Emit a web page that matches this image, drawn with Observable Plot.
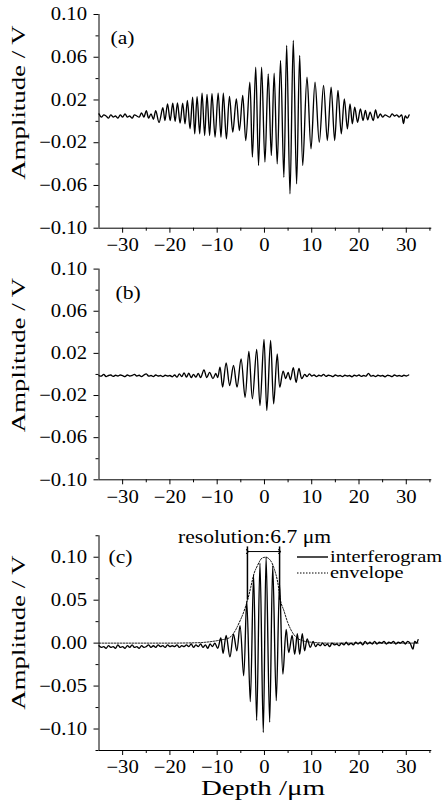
<!DOCTYPE html>
<html><head><meta charset="utf-8">
<script src="https://cdn.jsdelivr.net/npm/d3@7"></script>
<script src="https://cdn.jsdelivr.net/npm/@observablehq/plot@0.6"></script>
<style>
body{margin:0;background:#fff;}
#chart{width:447px;height:810px;position:relative;background:#fff;}
#chart svg{display:block;overflow:visible;background:transparent;}
</style></head><body><div id="chart"></div>
<script>
// ---------- data ----------
const depthA = [-35,-34.5,-34,-33.5,-33,-32.5,-32,-31.5,-31,-30.5,-30,-29.5,-29,-28.5,-28,-27.5,-27,-26.5,-26,-25.5,-25,-24.5,-24,-23.5,-23,-22.3,
-21.5,-21.05,-20.5,-19.95,-19.4,-18.9,-18.4,-17.85,-17.3,-16.8,-16.3,-15.75,-15.2,-14.75,-14.25,-13.7,-13.2,-12.65,-12.15,-11.6,-11.1,-10.45,-9.8,-9.2,-8.7,-8.05,-7.4,-6.7,-5.95,-5.3,-4.6,-3.95,-3.1,-2.55,-1.85,-1.25,-0.6,0.1,0.8,1.45,2.05,2.7,3.4,4.1,4.7,5.4,6.1,6.8,7.45,8.1,9.0,9.85,10.7,11.6,12.5,13.3,14.1,14.85,15.55,16.25,16.9,17.55,18.1,18.6,19.1,19.7,20.3,20.85,21.35,21.85,22.35,23.0,23.5,
24.0,24.5,25.0,25.5,26.0,26.5,27.0,27.5,28.0,28.5,29.0,29.4,29.8,30.2,30.6];
const ampA = [0.007,0.004,0.006,0.005,0.003,0.006,0.004,0.005,0.003,0.006,0.004,0.007,0.004,0.005,0.003,0.006,0.005,0.004,0.008,0.004,0.010,0.003,0.007,0.002,0.010,-0.001,
0.0127,0.0008,0.0164,0.0008,0.017,0.0001,0.0173,-0.0017,0.017,-0.0023,0.0195,-0.007,0.0226,-0.0117,0.0232,-0.0117,0.0264,-0.0132,0.0251,-0.0132,0.0258,-0.0148,0.0264,-0.0148,0.0264,-0.0164,0.0234,-0.0101,0.0211,-0.0086,0.0242,-0.0179,0.0367,-0.0335,0.0507,-0.0413,0.0507,-0.0382,0.0445,-0.032,0.0451,-0.0398,0.057,-0.0523,0.071,-0.0678,0.0757,-0.0585,0.0616,-0.0413,0.0413,-0.0257,0.0367,-0.0195,0.0336,-0.0179,0.032,-0.0179,0.0289,-0.0117,0.0211,-0.007,0.0164,-0.0023,0.0132,-0.0008,0.0117,0.0008,0.0102,0.0014,0.0086,0.0008,0.0108,
0.003,0.007,0.004,0.006,0.005,0.004,0.007,0.005,0.006,0.004,0.006,-0.002,0.005,0.003,0.006];

const depthB = [-35,-34.5,-34,-33.5,-33,-32.5,-32,-31.5,-31,-30.5,-30,-29.5,-29,-28.5,-28,-27.5,-27,-26.5,-26,-25.5,-25,-24.5,-24,-23.5,-23,-22.5,-22,-21.5,-21,-20.5,-20,-19.5,-19,-18.5,-18,-17.5,-17,-16.5,-16,-15.5,-15,-14.5,-14,-13.5,
-12.8,-12.2,-11.6,-10.9,-10.3,-9.9,-9.4,-8.85,-8.1,-7.35,-6.55,-5.8,-4.95,-4.1,-3.3,-2.55,-1.65,-0.95,-0.1,0.5,1.3,1.95,2.7,3.25,3.95,4.5,5.0,5.5,6.1,6.7,7.3,7.9,8.5,
9.0,9.5,10,10.5,11,11.5,12,12.5,13,13.5,14,14.5,15,15.5,16,16.5,17,17.5,18,18.5,19,19.5,20,20.5,21,21.5,22,22.5,23,23.5,24,24.5,25,25.5,26,26.5,27,27.5,28,28.5,29,29.5,30,30.5];
const ampB = [-0.001,-0.0015,0.000,-0.002,-0.001,-0.0005,-0.0018,-0.0008,-0.0015,-0.0005,-0.0012,-0.002,-0.0005,-0.0015,-0.001,0.000,-0.0015,-0.0008,-0.002,-0.0005,0.0005,-0.0015,-0.001,-0.002,-0.0005,-0.0015,-0.001,-0.002,-0.0008,-0.0015,-0.001,-0.0022,-0.0005,-0.0025,0.0005,-0.002,0.0015,-0.0025,0.0012,-0.003,0.000,-0.0025,0.001,-0.003,
0.0044,-0.003,0.002,-0.004,0.001,-0.003,0.0069,-0.0121,0.011,-0.0105,0.0085,-0.0121,0.0148,-0.0216,0.0218,-0.0231,0.0237,-0.0295,0.0332,-0.0342,0.0322,-0.0279,0.0196,-0.0121,0.003,-0.004,0.002,-0.005,0.0065,-0.0075,0.0058,-0.004,0.000,
-0.002,0.0005,-0.0015,-0.0005,-0.002,-0.0008,-0.0015,0.000,-0.0018,-0.0008,-0.0012,-0.002,-0.0005,-0.0015,-0.001,-0.002,-0.0008,-0.0015,-0.001,-0.0022,-0.0008,-0.0015,-0.0005,-0.0018,-0.001,-0.0015,0.001,-0.0015,-0.001,-0.002,-0.0008,-0.0015,-0.001,-0.0022,-0.0008,-0.0012,-0.002,-0.0005,-0.0015,-0.001,-0.0018,-0.0008,-0.0015,-0.0005];

const depthC = [-35,-34.5,-34,-33.5,-33,-32.5,-32,-31.5,-31,-30.5,-30,-29.5,-29,-28.5,-28,-27.5,-27,-26.5,-26,-25.5,-25,-24.5,-24,-23.5,-23,-22.5,-22,-21.5,-21,-20.5,-20,-19.5,-19,-18.5,-18,-17.5,-17,-16.5,-16,-15.5,-15,-14.5,-14,-13.5,-13,-12.5,-12,-11.5,-11,-10.5,-9.9,
-9.24,-8.75,-8.1,-7.3,-6.55,-5.85,-5.17,-4.4,-3.75,-3.0,-2.3,-1.65,-0.95,-0.25,0.35,1.1,1.75,2.5,3.2,3.9,4.6,5.15,5.85,6.4,6.95,7.45,8.0,8.5,9.05,9.7,10.3,
10.8,11.3,11.8,12.3,12.8,13.3,13.8,14.3,14.8,15.3,15.8,16.3,16.8,17.3,17.8,18.3,18.8,19.3,19.8,20.3,20.8,21.3,21.8,22.3,22.8,23.3,23.8,24.3,24.8,25.3,25.8,26.3,26.8,27.3,27.8,28.3,28.8,29.3,29.8,30.3,30.8,31.4,31.8,32.2,32.5];
const ampC = [-0.003,-0.005,-0.004,-0.006,-0.003,-0.005,-0.004,-0.006,-0.002,-0.005,-0.004,-0.006,-0.003,-0.005,-0.002,-0.005,-0.004,-0.006,-0.003,-0.005,-0.004,-0.002,-0.005,-0.003,-0.005,-0.002,-0.004,-0.003,-0.005,-0.002,-0.004,-0.003,-0.004,-0.002,-0.005,-0.003,-0.004,-0.002,-0.004,-0.001,-0.005,-0.002,-0.004,-0.001,-0.005,-0.002,-0.006,-0.001,-0.004,0.000,-0.006,
0.006,-0.012,0.009,-0.016,0.0105,-0.009,0.0204,-0.038,0.049,-0.068,0.079,-0.09,0.093,-0.104,0.100,-0.092,0.09,-0.067,0.068,-0.036,0.016,-0.011,0.009,-0.013,0.011,-0.013,0.011,-0.009,0.005,-0.005,0.002,
-0.004,-0.001,-0.003,0.000,-0.003,-0.001,-0.004,0.000,-0.002,-0.001,-0.003,0.000,-0.002,0.001,-0.002,0.000,-0.002,0.001,-0.001,0.001,-0.002,0.002,-0.001,0.001,-0.001,0.002,-0.001,0.001,0.000,0.002,-0.001,0.001,0.000,0.002,-0.001,0.001,0.000,0.002,-0.001,0.002,0.000,-0.007,0.002,0.000,0.004];

const envDepth = [-35,-20,-14,-11,-9.2,-7.5,-6.4,-5.3,-4.4,-3.6,-2.9,-2.2,-1.5,-0.5,0.25,1.3,2.1,2.8,3.4,4.1,4.9,5.9,6.9,8.0,10,14,20,32.5];
const envAmp = [0,0,0.0005,0.002,0.0037,0.006,0.0126,0.0243,0.036,0.0495,0.065,0.081,0.09,0.099,0.1,0.096,0.086,0.071,0.0495,0.038,0.0243,0.0126,0.006,0.003,0.001,0,0,0];

const xMajor = [-30,-20,-10,0,10,20,30];
const xMinor = [-25,-15,-5,5,15,25,35];
const yMajorAB = [-0.10,-0.06,-0.02,0.02,0.06,0.10];
const yMinorAB = [-0.08,-0.04,0,0.04,0.08];
const yMajorC = [-0.10,-0.05,0,0.05,0.10];
const yMinorC = [-0.125,-0.075,-0.025,0.025,0.075,0.125];
const resolutionX = [-3.6, 3.2];
const resolutionY = [0.05, 0.112];
const arrowY = 0.1066;
const resolutionLabel = "resolution:6.7 μm";
const legendLabels = ["interferogram", "envelope"];
const panelLetters = ["(a)", "(b)", "(c)"];
const yTitle = "Amplitude / V";
const xTitle = "Depth /μm";

// ---------- drawing ----------
const X_DOMAIN = [-35, 35.4];
const FONT = '"Liberation Serif", "Times New Roman", serif';

// horizontal stretch of a text about its own anchor x (the reference's lettering is wide)
function stretch(svg, factorFor) {
  d3.select(svg).selectAll("text").each(function () {
    const f = factorFor(this.textContent);
    if (!f || f === 1) return;
    let x = parseFloat(this.getAttribute("x"));
    if (!isFinite(x) || /em/.test(this.getAttribute("x") || "")) x = 0;
    const t = this.getAttribute("transform") || "";
    this.setAttribute("transform", `${t} translate(${x},0) scale(${f},1) translate(${-x},0)`);
  });
}

function makePanel(cfg) {
  const rows = cfg.depth.map((d, i) => ({depth: d, amp: cfg.amp[i]}));
  const marks = [
    Plot.ruleX([X_DOMAIN[0]], {y1: cfg.yDomain[0], y2: cfg.yDomain[1], stroke: "#000"}),
    Plot.ruleY([cfg.yDomain[0]], {stroke: "#000"}),
    Plot.axisY({ticks: cfg.yMinor, tickSize: 3, tickFormat: () => "", label: null}),
    Plot.axisY({ticks: cfg.yMajor, tickSize: 5, tickPadding: 7, tickFormat: d3.format(".2f"), label: null}),
    Plot.axisX({ticks: xMinor, tickSize: 3, tickFormat: () => "", label: null}),
    Plot.axisX({ticks: xMajor, tickSize: 5, tickPadding: 5, tickFormat: d3.format("d"), label: null}),
    ...(cfg.before || []),
    Plot.line(rows, {x: "depth", y: "amp", stroke: "#000", strokeWidth: 1.35, curve: "catmull-rom"}),
    Plot.text([cfg.letter], {frameAnchor: "top-left", dx: cfg.letterDx, dy: cfg.letterDy, textAnchor: "start", lineAnchor: "middle", fontSize: 18}),
    ...(cfg.after || [])
  ];
  const svg = Plot.plot({
    width: 447, height: cfg.height,
    marginLeft: 98.5, marginRight: 15.7, marginTop: cfg.marginTop, marginBottom: cfg.marginBottom,
    x: {domain: X_DOMAIN}, y: {domain: cfg.yDomain},
    style: {fontFamily: FONT, fontSize: "18px", background: "transparent", color: "#000", overflow: "visible"},
    marks
  });
  // rotated y-axis title
  d3.select(svg).append("text")
    .attr("transform", `translate(18.5,${cfg.titleY}) rotate(-90)`)
    .attr("text-anchor", "middle").attr("dy", "0.32em")
    .attr("font-family", FONT).attr("font-size", 19).attr("fill", "#000")
    .text(yTitle);
  return svg;
}

const chart = document.getElementById("chart");

const svgA = makePanel({depth: depthA, amp: ampA, yDomain: [-0.1, 0.1], yMajor: yMajorAB, yMinor: yMinorAB,
  height: 262, marginTop: 14, marginBottom: 34.3, letter: panelLetters[0], letterDx: 11.5, letterDy: 24, titleY: 102.5});
const svgB = makePanel({depth: depthB, amp: ampB, yDomain: [-0.1, 0.1], yMajor: yMajorAB, yMinor: yMinorAB,
  height: 258, marginTop: 6.6, marginBottom: 40.7, letter: panelLetters[1], letterDx: 16.5, letterDy: 24.4, titleY: 93});
const envRows = envDepth.map((d, i) => ({depth: d, amp: envAmp[i]}));
const svgC = makePanel({depth: depthC, amp: ampC, yDomain: [-0.125, 0.125], yMajor: yMajorC, yMinor: yMinorC,
  height: 290, marginTop: 15.25, marginBottom: 60, letter: panelLetters[2], letterDx: 9.5, letterDy: 21.75, titleY: 112.5,
  before: [
    Plot.line(envRows, {x: "depth", y: "amp", stroke: "#000", strokeWidth: 1, strokeDasharray: "1.5,1.5", curve: "monotone-x"})
  ],
  after: [
    Plot.ruleX(resolutionX, {y1: resolutionY[0], y2: resolutionY[1], stroke: "#000", strokeWidth: 1.5}),
    Plot.link([resolutionX], {x1: d => d[0], x2: d => d[1], y1: () => arrowY, y2: () => arrowY, stroke: "#000", strokeWidth: 1, markerStart: "arrow", markerEnd: "arrow"}),
    Plot.text([resolutionLabel], {x: () => -2.1, y: () => 0.1227, textAnchor: "middle", lineAnchor: "middle", fontSize: 18}),
    Plot.text([xTitle], {frameAnchor: "bottom", dx: -2.4, dy: 38, lineAnchor: "middle", fontSize: 20})
  ]});

// legend (panel c)
{
  const g = d3.select(svgC).append("g").attr("font-size", 17).attr("font-family", FONT).attr("text-anchor", "start");
  legendLabels.forEach((lab, i) => {
    const y = 37 + i * 16;
    g.append("line").attr("x1", 297).attr("x2", 328).attr("y1", y).attr("y2", y)
      .attr("stroke", "#000").attr("stroke-width", i ? 1 : 1.4).attr("stroke-dasharray", i ? "1.5,1.5" : null);
    g.append("text").attr("x", 330).attr("y", y).attr("dy", "0.32em").text(lab);
  });
}

const factor = t => t === yTitle ? 1.41 : t === xTitle ? 1.45 : panelLetters.includes(t) ? 1.2 : t === resolutionLabel ? 1.2 : legendLabels.includes(t) ? 1.2 : 1.15;
[svgA, svgB, svgC].forEach(s => { stretch(s, factor); chart.appendChild(s); });
</script>
</body></html>
